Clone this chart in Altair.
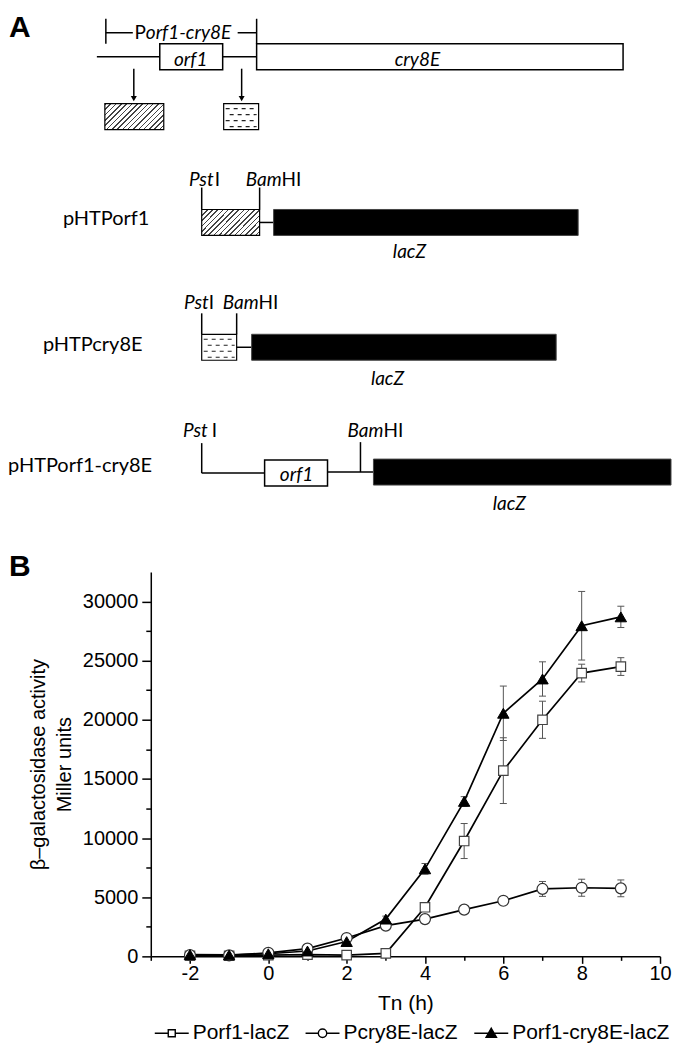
import altair as alt
import pandas as pd

# ======================= Panel B data =======================
hours = [-2, -1, 0, 1, 2, 3, 4, 5, 6, 7, 8, 9]
series_names = ["Porf1-lacZ", "Pcry8E-lacZ", "Porf1-cry8E-lacZ"]
porf1_lacz = [50, 50, 100, 150, 100, 250, 4150, 9750, 15700, 20000, 23950, 24500]
porf1_lacz_err = [20, 20, 30, 50, 40, 60, 200, 1480, 2780, 1570, 750, 750]
pcry8e_lacz = [100, 80, 300, 650, 1550, 2600, 3150, 3950, 4700, 5700, 5800, 5750]
pcry8e_lacz_err = [30, 30, 60, 100, 150, 200, 250, 300, 300, 630, 720, 710]
porf1_cry8e_lacz = [150, 120, 220, 450, 1250, 3150, 7400, 13100, 20550, 23450, 27950, 28700]
porf1_cry8e_lacz_err = [40, 40, 60, 100, 150, 250, 450, 400, 2300, 1450, 2900, 900]
x_tick_values = list(range(-3, 11))
y_tick_values = list(range(0, 30001, 2500))

# ======================= Panel A schematic (map coordinates) =======================
box_kind = ["open", "open", "hatch", "dash", "hatch", "solid", "dash", "solid", "open", "solid"]
box_x1 = [160, 257, 105, 224, 202, 274, 202, 252, 265, 374]
box_x2 = [223, 624, 164, 259, 260, 579, 237, 557, 328, 672]
box_y1 = [43, 43, 103, 103, 209, 209, 334, 334, 460, 459]
box_y2 = [69, 69, 129, 129, 235, 235, 360, 360, 486, 485]

seg_x1 = [106, 106, 238, 257, 97, 223, 134, 242, 202, 260, 260, 202, 237, 237, 202, 202, 328, 361]
seg_y1 = [18, 32, 32, 18, 56, 56, 68, 68, 187, 187, 222, 313, 313, 347, 443, 473, 472, 442]
seg_x2 = [106, 133, 257, 257, 160, 257, 134, 242, 202, 260, 274, 202, 237, 252, 202, 265, 374, 361]
seg_y2 = [43, 32, 32, 43, 56, 56, 97, 97, 209, 209, 222, 334, 334, 347, 473, 473, 472, 472]

arrow_x = [134, 242]
arrow_y = [98, 98]

dash_x1 = [226, 226, 226, 226, 204, 204, 204, 204]
dash_x2 = [257, 257, 257, 257, 235, 235, 235, 235]
dash_y = [108, 114, 120, 126, 339, 345, 351, 357]
dash_phase = [0, 1, 0, 1, 0, 1, 0, 1]

label_text = ["A", "B", "P", "orf1-cry8E", "orf1", "cry8E",
              "Pst", "I", "Bam", "HI", "pHTPorf1", "lacZ",
              "Pst", "I", "Bam", "HI", "pHTPcry8E", "lacZ",
              "Pst", "I", "Bam", "HI", "pHTPorf1-cry8E", "orf1", "lacZ"]
label_x = [9, 9, 146, 146, 191, 418,
           214, 215, 282, 282, 63, 410,
           209, 209, 259, 259, 43, 388,
           208, 212, 384, 384, 8, 297, 510]
label_y = [36, 576, 38, 38, 65, 65,
           185, 185, 185, 185, 225, 258,
           309, 309, 309, 309, 351, 385,
           437, 437, 437, 437, 472, 481, 510]
label_role = ["panel", "panel", "up_right", "it_left", "it_center", "it_center",
              "it_right", "up_left", "it_right", "up_left", "name", "it_center",
              "it_right", "up_left", "it_right", "up_left", "name", "it_center",
              "it_right", "up_left", "it_right", "up_left", "name", "it_center", "it_center"]

boxes = pd.DataFrame(dict(kind=box_kind, x1=box_x1, x2=box_x2, y1=box_y1, y2=box_y2))
segs = pd.DataFrame(dict(x1=seg_x1, y1=seg_y1, x2=seg_x2, y2=seg_y2))
arrows = pd.DataFrame(dict(x=arrow_x, y=arrow_y))
dashes = pd.DataFrame(dict(x1=dash_x1, x2=dash_x2, y=dash_y, phase=dash_phase))
labels = pd.DataFrame(dict(text=label_text, x=label_x, y=label_y, role=label_role))

FONT_A = "Lato"
FONT_B = "Liberation Sans"

xA = alt.Scale(domain=[151, 672], nice=False, zero=False)
yA = alt.Scale(domain=[8, 572], nice=False, zero=False, reverse=True)


def XA(f):
    return alt.X(f, type="quantitative", scale=xA, axis=None)


def YA(f):
    return alt.Y(f, type="quantitative", scale=yA, axis=None)


# diagonal hatch as a striped gradient
n_stripes = 16
hatch_stops = []
for i in range(n_stripes):
    a = i / n_stripes
    b = (i + 0.3) / n_stripes
    c = (i + 1) / n_stripes
    hatch_stops += [
        {"offset": a, "color": "#444444"},
        {"offset": b, "color": "#444444"},
        {"offset": b, "color": "#ffffff"},
        {"offset": c, "color": "#ffffff"},
    ]
hatch_fill = {"gradient": "linear", "x1": 0, "y1": 0, "x2": 1.21, "y2": 0.533, "stops": hatch_stops}

seg_layer = alt.Chart(segs).mark_rule(color="black", strokeWidth=1.5).encode(
    x=XA("x1"), y=YA("y1"), x2="x2:Q", y2="y2:Q")


def box_layer(kind, **style):
    return alt.Chart(boxes).transform_filter(alt.datum.kind == kind).mark_rect(**style).encode(
        x=XA("x1"), x2="x2:Q", y=YA("y1"), y2="y2:Q")


open_layer = box_layer("open", fill="white", stroke="black", strokeWidth=1.5)
solid_layer = box_layer("solid", fill="black", stroke="#444444", strokeWidth=1)
hatch_layer = box_layer("hatch", fill=hatch_fill, stroke="black", strokeWidth=1.2)
dashbox_layer = box_layer("dash", fill="white", stroke="black", strokeWidth=1.2)


def dash_layer(phase, offset):
    return alt.Chart(dashes).transform_filter(alt.datum.phase == phase).mark_rule(
        color="#222222", strokeWidth=1.1, strokeDash=[4, 4], strokeDashOffset=offset).encode(
        x=XA("x1"), x2="x2:Q", y=YA("y"))


dash0 = dash_layer(0, 0)
dash1 = dash_layer(1, 4)

arrow_layer = alt.Chart(arrows).mark_point(shape="triangle-down", filled=True, color="black",
                                           opacity=1, size=36).encode(x=XA("x"), y=YA("y"))

text_styles = {
    "panel": dict(font=FONT_B, fontSize=30, fontWeight="bold", align="left", baseline="alphabetic"),
    "up_right": dict(font=FONT_A, fontSize=19, align="right", baseline="alphabetic"),
    "it_left": dict(font=FONT_A, fontSize=19, fontStyle="italic", align="left", baseline="alphabetic"),
    "it_center": dict(font=FONT_A, fontSize=19, fontStyle="italic", align="center", baseline="alphabetic"),
    "it_right": dict(font=FONT_A, fontSize=19, fontStyle="italic", align="right", baseline="alphabetic"),
    "up_left": dict(font=FONT_A, fontSize=19, align="left", baseline="alphabetic"),
    "name": dict(font=FONT_A, fontSize=20, align="left", baseline="alphabetic"),
}
text_layers = []
for role, st in text_styles.items():
    text_layers.append(
        alt.Chart(labels).transform_filter(alt.datum.role == role).mark_text(color="black", **st).encode(
            x=XA("x"), y=YA("y"), text="text:N"))

panelA = alt.layer(seg_layer, open_layer, solid_layer, hatch_layer, dashbox_layer, dash0, dash1,
                   arrow_layer, *text_layers).properties(width=521, height=564)

# ======================= Panel B chart =======================
rows = []
for name, vals, errs in zip(series_names,
                            [porf1_lacz, pcry8e_lacz, porf1_cry8e_lacz],
                            [porf1_lacz_err, pcry8e_lacz_err, porf1_cry8e_lacz_err]):
    for t, v, e in zip(hours, vals, errs):
        rows.append(dict(series=name, t=t, v=v, lo=v - e, hi=v + e))
dfB = pd.DataFrame(rows)

x_axis = alt.Axis(
    values=x_tick_values,
    labelExpr="datum.value % 2 === 0 ? datum.value + '' : ''",
    tickSize={"condition": {"test": "datum.value % 2 !== 0", "value": 4}, "value": 7},
    grid=False, domainColor="black", domainWidth=1.5, tickColor="black", tickWidth=1.5,
    labelFont=FONT_B, labelFontSize=20, labelColor="black", labelPadding=0,
    labelOverlap=False, labelFlush=False,
    titleFont=FONT_B, titleFontSize=21, titleFontWeight="normal", titleColor="black", titlePadding=9,
)
y_axis = alt.Axis(
    values=y_tick_values,
    labelExpr="datum.value % 5000 === 0 ? datum.value + '' : ''",
    tickSize={"condition": {"test": "datum.value % 5000 !== 0", "value": 5}, "value": 9},
    grid=False, domainColor="black", domainWidth=1.5, tickColor="black", tickWidth=1.5,
    labelFont=FONT_B, labelFontSize=20, labelColor="black", labelPadding=4,
    labelOverlap=False, labelFlush=False,
    titleFont=FONT_B, titleFontSize=20, titleFontWeight="normal", titleColor="black",
    titlePadding=8, titleLineHeight=26,
)
y_title = ["\u03b2\u2013galactosidase activity", "Miller units"]
xB = alt.X("t:Q", scale=alt.Scale(domain=[-3, 10], nice=False, zero=False), axis=x_axis, title="Tn (h)")


def YB(f):
    return alt.Y(f, type="quantitative", scale=alt.Scale(domain=[0, 32500], nice=False),
                 axis=y_axis, title=y_title)


baseB = alt.Chart(dfB)
err_layer = baseB.mark_rule(color="#555555", strokeWidth=1).encode(x=xB, y=YB("lo"), y2="hi:Q")
cap_hi = baseB.mark_rule(color="#555555", strokeWidth=1, xOffset=-3.5, x2Offset=3.5).encode(
    x=xB, x2="t:Q", y=YB("hi"))
cap_lo = baseB.mark_rule(color="#555555", strokeWidth=1, xOffset=-3.5, x2Offset=3.5).encode(
    x=xB, x2="t:Q", y=YB("lo"))
line_layer = baseB.mark_line(color="black", strokeWidth=1.7).encode(
    x=xB, y=YB("v"), detail="series:N", order="t:Q")

pt_sq = baseB.transform_filter(alt.datum.series == series_names[0]).mark_point(
    shape="square", filled=True, fill="white", stroke="#444444", strokeWidth=1.2, size=90, opacity=1
).encode(x=xB, y=YB("v"))
pt_ci = baseB.transform_filter(alt.datum.series == series_names[1]).mark_point(
    shape="circle", filled=True, fill="white", stroke="#333333", strokeWidth=1.2, size=120, opacity=1
).encode(x=xB, y=YB("v"))
pt_tr = baseB.transform_filter(alt.datum.series == series_names[2]).mark_point(
    shape="triangle-up", filled=True, fill="black", stroke="black", strokeWidth=1, size=130, opacity=1
).encode(x=xB, y=YB("v"))

legend_paths = [
    "M -1.7 0 L -0.35 0 M 0.35 0 L 1.7 0 M -0.35 -0.35 L 0.35 -0.35 L 0.35 0.35 L -0.35 0.35 Z",
    "M -1.7 0 L -0.42 0 M 0.42 0 L 1.7 0 M 0.42 0 A 0.42 0.42 0 1 1 -0.42 0 A 0.42 0.42 0 1 1 0.42 0 Z",
    "M -1.7 0 L 1.7 0 M 0 -0.5 L 0.52 0.4 L -0.52 0.4 Z",
]
legend_fills = ["white", "white", "black"]
legend_strokes = ["black", "black", "black"]
leg = alt.Legend(orient="none", legendX=10, legendY=1015, direction="horizontal", title=None,
                 labelFont=FONT_B, labelFontSize=21, labelColor="black", labelOffset=10,
                 columnPadding=13, padding=0, symbolSize=400,
                 symbolStrokeWidth=1.4, symbolOpacity=1)
legend_layer = baseB.transform_filter("false").mark_point(
    filled=True, strokeWidth=1.4, size=400, opacity=1).encode(
    x=xB, y=YB("v"),
    shape=alt.Shape("series:N", scale=alt.Scale(domain=series_names, range=legend_paths), legend=leg),
    fill=alt.Fill("series:N", scale=alt.Scale(domain=series_names, range=legend_fills), legend=leg),
    stroke=alt.Stroke("series:N", scale=alt.Scale(domain=series_names, range=legend_strokes), legend=leg),
)

panelB = alt.layer(err_layer, cap_hi, cap_lo, line_layer, pt_sq, pt_ci, pt_tr, legend_layer).properties(
    width=510, height=385)

chart = alt.vconcat(panelA, panelB, spacing=0, bounds="flush").properties(
    padding=0, background="white"
).configure_view(stroke=None)

chart.save("out.html", embed_options={"renderer": "svg", "actions": False})
